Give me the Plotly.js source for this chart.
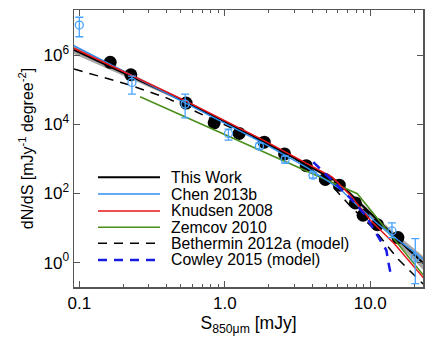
<!DOCTYPE html>
<html>
<head>
<meta charset="utf-8">
<script src="https://cdn.plot.ly/plotly-3.0.1.min.js"></script>
<style>
  body { margin: 0; background: #fff; }
  #plotArea { width: 436px; height: 339px; }
</style>
</head>
<body>
<div id="plotArea"></div>
<script>
// This Work - measured counts (black dots)
var twS = [0.163, 0.226, 0.542, 0.845, 1.256, 1.867, 2.576, 3.63, 4.91, 6.13, 7.90, 8.93, 11.19, 15.5];
var twN = [6.27e5, 2.74e5, 4.14e4, 1.11e4, 5.48e3, 3.07e3, 1.40e3, 640, 255, 174, 53.4, 23.5, 12.5, 5.30];

// This Work - fit and its uncertainty band
var fitS = [0.0919, 0.542, 1.867, 3.63, 6.03, 8.02, 11.02, 14.65, 23.2];
var fitN = [1.43e6, 4.43e4, 3.17e3, 707, 213, 66.1, 18.0, 5.79, 0.955];
var fitHi = [1.86e6, 4.90e4, 3.51e3, 781, 243, 75.5, 21.3, 7.55, 1.52];
var fitLo = [1.09e6, 4.01e4, 2.87e3, 640, 186, 57.8, 14.3, 4.43, 0.598];

// Chen 2013b - points with errors and fit
var chenS = [0.1, 0.23, 0.534, 1.06, 1.73, 2.60, 4.04, 14.1, 20.4];
var chenN = [7.55e6, 1.65e5, 3.88e4, 5.49e3, 2.35e3, 968, 339, 8.24, 1.40];
var chenHi = [1.27e7, 2.51e5, 7.55e4, 7.31e3, 2.87e3, 1.205e3, 414, 14.1, 4.96];
var chenLo = [3.46e6, 7.55e4, 1.55e4, 3.51e3, 1.92e3, 755, 277, 5.3, 0.246];
var chenFitS = [0.0919, 0.542, 1.867, 3.63, 6.23, 8.27, 11.35, 15.58, 23.2];
var chenFitN = [1.92e6, 4.01e4, 2.79e3, 578, 133, 42.9, 12.9, 4.43, 1.25];

// Knudsen 2008
var knudS = [0.0919, 0.542, 1.867, 3.63, 5.48, 7.30, 10.02, 14.65, 23.2];
var knudN = [1.60e6, 4.73e4, 3.39e3, 731, 297, 89.3, 16.8, 3.51, 0.362];

// Zemcov 2010
var zemS = [0.2617, 8.15, 23.2];
var zemN = [6.31e4, 98.7, 0.428];

// Bethermin 2012a (model)
var bethS = [0.0919, 0.2234, 0.4016, 0.8452, 1.867, 3.63, 5.73, 7.30, 10.34, 15.58, 23.2];
var bethN = [4.02e5, 1.38e5, 5.78e4, 1.33e4, 3.07e3, 661, 133, 42.9, 10.5, 1.25, 0.235];

// Cowley 2015 (model)
var cowS = [4.06, 5.31, 7.30, 9.25, 11.37, 12.91, 13.32, 13.75];
var cowN = [808, 277, 73.1, 23.5, 5.79, 2.27, 1.02, 0.523];

var legendNames = ["This Work", "Chen 2013b", "Knudsen 2008", "Zemcov 2010", "Bethermin 2012a (model)", "Cowley 2015 (model)"];
var legendColors = ["#000000", "#2e8ef0", "#e8141a", "#4a8f1c", "#000000", "#1a1ae6"];
var legendDash = ["solid", "solid", "solid", "solid", "9px,7px", "9px,7px"];
var legendWidth = [2, 1.5, 1.5, 1.5, 1.5, 2.5];

var traces = [
    {x: fitS, y: fitLo, mode: "lines", line: {width: 0, color: "rgba(150,150,150,0)"}, hoverinfo: "skip"},
    {x: fitS, y: fitHi, mode: "lines", fill: "tonexty", fillcolor: "rgba(150,150,150,0.85)",
     line: {width: 0, color: "rgba(150,150,150,0)"}, hoverinfo: "skip"},
    {x: twS, y: twN, mode: "markers", marker: {color: "#000", size: 13}},
    {x: fitS, y: fitN, mode: "lines", line: {color: "#000", width: 2}},
    {x: bethS, y: bethN, mode: "lines", line: {color: "#000", width: 1.5, dash: "9px,7px"}},
    {x: zemS, y: zemN, mode: "lines", line: {color: "#4a8f1c", width: 1.5}},
    {x: chenFitS, y: chenFitN, mode: "lines", line: {color: "#2e8ef0", width: 1.5}},
    {x: knudS, y: knudN, mode: "lines", line: {color: "#e8141a", width: 1.5}},
    {x: cowS, y: cowN, mode: "lines", line: {color: "#1a1ae6", width: 2.5, dash: "9px,7px"}},
    {x: chenS, y: chenN, mode: "markers",
     marker: {symbol: "circle-open", color: "#47a3ff", size: 8, line: {width: 1.3}},
     error_y: {type: "data", symmetric: false, color: "#47a3ff", thickness: 1.3, width: 4,
               array: chenHi.map((h, i) => h - chenN[i]),
               arrayminus: chenLo.map((l, i) => chenN[i] - l)}}
];

// manual legend
var shapes = [];
var annotations = [];
var rowY = [0.396, 0.3357, 0.2744, 0.2155, 0.1578, 0.0975];
legendNames.forEach(function(name, i) {
    shapes.push({type: "line", xref: "paper", yref: "paper", x0: 0.0688, x1: 0.2464, y0: rowY[i], y1: rowY[i],
                 line: {color: legendColors[i], width: legendWidth[i], dash: legendDash[i]}});
    annotations.push({xref: "paper", yref: "paper", x: 0.272, y: rowY[i], xanchor: "left", yanchor: "middle",
                      text: name, showarrow: false, font: {size: 15.8, color: "#000"}});
});

var layout = {
    width: 436, height: 339,
    margin: {l: 74, r: 13, t: 10, b: 52},
    showlegend: false,
    paper_bgcolor: "#fff", plot_bgcolor: "#fff",
    font: {family: "Liberation Sans, Arial, sans-serif", color: "#000", size: 17},
    xaxis: {
        type: "log", range: [-1.0365, 1.3626],
        tickvals: [0.1, 1, 10], ticktext: ["0.1", "1.0", "10.0"],
        ticks: "inside", ticklen: 6, tickcolor: "#555", tickwidth: 1,
        minor: {ticks: "inside", ticklen: 3, tickcolor: "#555", dtick: "D1", showgrid: false},
        showline: true, mirror: "ticks", linecolor: "#555", linewidth: 1.5,
        showgrid: false, zeroline: false,
        title: {text: "S<sub>850\u03bcm</sub> [mJy]", font: {size: 17.5}, standoff: 4}
    },
    yaxis: {
        type: "log", range: [-0.707, 7.313],
        tickvals: [1, 100, 1e4, 1e6], ticktext: ["10<sup>0</sup>", "10<sup>2</sup>", "10<sup>4</sup>", "10<sup>6</sup>"],
        ticks: "inside", ticklen: 6, tickcolor: "#555", tickwidth: 1,
        showline: true, mirror: "ticks", linecolor: "#555", linewidth: 1.5,
        showgrid: false, zeroline: false,
        title: {text: "dN/dS [mJy<sup>-1</sup> degree<sup>-2</sup>]", font: {size: 16}, standoff: 6}
    },
    shapes: shapes,
    annotations: annotations
};

Plotly.newPlot("plotArea", traces, layout, {displayModeBar: false, staticPlot: true});
</script>
</body>
</html>
